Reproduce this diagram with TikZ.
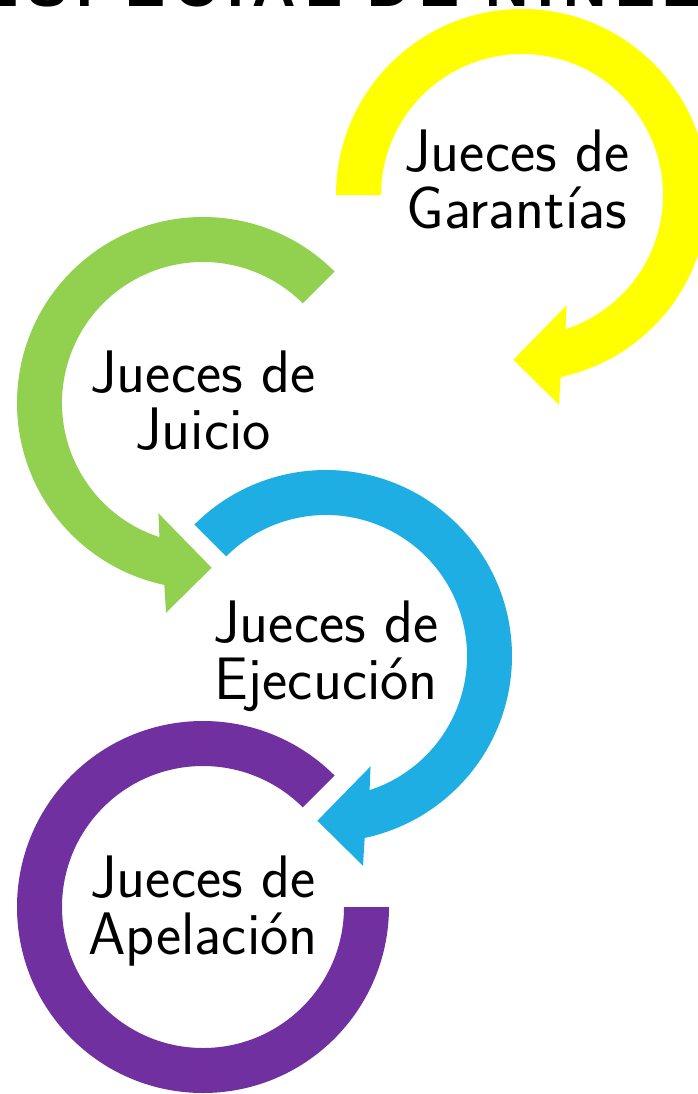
\documentclass[tikz,border=0pt]{standalone}
\usepackage{fontspec}
\usepackage{xcolor}
\usepackage{tikz}
\newfontfamily\titlefont[LetterSpace=15]{Liberation Sans}

\definecolor{garYellow}{HTML}{FFFF00}
\definecolor{juiGreen}{HTML}{92D050}
\definecolor{ejeBlue}{HTML}{1FAEE3}
\definecolor{apePurple}{HTML}{7030A0}

\begin{document}
\begin{tikzpicture}[x=1pt, y=1pt,
		rotulo/.style={font=\sffamily\fontsize{60}{57}\selectfont, align=center, anchor=base}]
			\def\rin{141}
			\def\rout{186}

			\useasboundingbox (0,0) rectangle (698,-1094);
			\clip (0,0) rectangle (698,-1094);

			% centres of the rings
			\coordinate (gar) at (522,-195);
			\coordinate (jui) at (203,-403);
			\coordinate (eje) at (326,-656);
			\coordinate (ape) at (203,-907);

			% title, cut off by the top edge
			\node[anchor=base east, font=\titlefont\bfseries\fontsize{60}{60}\selectfont] (titulo) at (705,-7) {ESPECIAL DE NIÑEZ};

			\begin{scope}
				\fill[garYellow, shift={(gar)}] (180:\rout) arc[start angle=180, end angle=-78, radius=\rout]
					-- (-80:213) -- (-93:165) -- (-68:119)
					-- (-72:\rin) arc[start angle=-72, end angle=180, radius=\rin] -- cycle;
				\fill[juiGreen, shift={(jui)}] (45:\rout) arc[start angle=45, end angle=258, radius=\rout]
					-- (260:213) -- (273:165) -- (248:119)
					-- (252:\rin) arc[start angle=252, end angle=45, radius=\rin] -- cycle;
				\fill[ejeBlue, shift={(eje)}] (135:\rout) arc[start angle=135, end angle=-78, radius=\rout]
					-- (-80:213) -- (-93:165) -- (-68:119)
					-- (-72:\rin) arc[start angle=-72, end angle=135, radius=\rin] -- cycle;
				\fill[apePurple, shift={(ape)}] (45:\rout) arc[start angle=45, end angle=360, radius=\rout]
					-- (0:\rin) arc[start angle=360, end angle=45, radius=\rin] -- cycle;
			\end{scope}

			\node[rotulo] (garantias) at (517,-228) {Jueces de\\Garantías};
			\node[rotulo] (juicio) at (203,-449) {Jueces de\\Juicio};
			\node[rotulo] (ejecucion) at (326,-699) {Jueces de\\Ejecución};
			\node[rotulo] (apelacion) at (203,-954) {Jueces de\\Apelación};
		\end{tikzpicture}
\end{document}
